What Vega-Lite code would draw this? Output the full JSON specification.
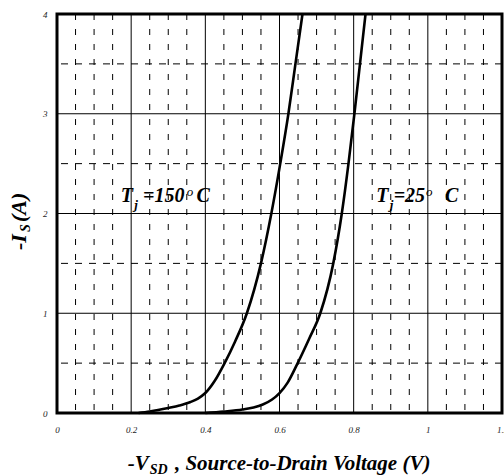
{
  "$schema": "https://vega.github.io/schema/vega-lite/v6.json",
  "width": 445,
  "height": 399,
  "autosize": "none",
  "padding": {"left": 57, "top": 14, "right": 2, "bottom": 62},
  "background": "white",
  "config": {
    "view": {"stroke": "black", "strokeWidth": 3},
    "axis": {"grid": false, "ticks": false, "domain": false, "title": null,
      "labelFont": "Liberation Serif", "labelFontStyle": "italic", "labelFontSize": 9,
      "labelColor": "#222", "labelFlush": false, "labelOverlap": false, "labelBound": false, "format": "~g"},
    "text": {"font": "Liberation Serif", "fontStyle": "italic", "fontWeight": "bold", "color": "black", "align": "left", "baseline": "alphabetic"}
  },
  "datasets": {
    "vsolid": [{"v": 0.2}, {"v": 0.4}, {"v": 0.6}, {"v": 0.8}, {"v": 1.0}],
    "vdash": [{"v": 0.05}, {"v": 0.1}, {"v": 0.15}, {"v": 0.25}, {"v": 0.3}, {"v": 0.35}, {"v": 0.45}, {"v": 0.5}, {"v": 0.55}, {"v": 0.65}, {"v": 0.7}, {"v": 0.75}, {"v": 0.85}, {"v": 0.9}, {"v": 0.95}, {"v": 1.05}, {"v": 1.1}, {"v": 1.15}],
    "hsolid": [{"i": 1}, {"i": 2}, {"i": 3}],
    "hdash": [{"i": 0.5}, {"i": 1.5}, {"i": 2.5}, {"i": 3.5}],
    "curves": [
      {"vsd": 0.22, "is": 0, "tj": "150"},
      {"vsd": 0.25, "is": 0.015, "tj": "150"},
      {"vsd": 0.3, "is": 0.05, "tj": "150"},
      {"vsd": 0.33, "is": 0.075, "tj": "150"},
      {"vsd": 0.36, "is": 0.11, "tj": "150"},
      {"vsd": 0.38, "is": 0.145, "tj": "150"},
      {"vsd": 0.4, "is": 0.2, "tj": "150"},
      {"vsd": 0.425, "is": 0.32, "tj": "150"},
      {"vsd": 0.452, "is": 0.5, "tj": "150"},
      {"vsd": 0.48, "is": 0.715, "tj": "150"},
      {"vsd": 0.512, "is": 1.0, "tj": "150"},
      {"vsd": 0.55, "is": 1.5, "tj": "150"},
      {"vsd": 0.578, "is": 2.0, "tj": "150"},
      {"vsd": 0.602, "is": 2.5, "tj": "150"},
      {"vsd": 0.624, "is": 3.0, "tj": "150"},
      {"vsd": 0.643, "is": 3.5, "tj": "150"},
      {"vsd": 0.662, "is": 4.0, "tj": "150"},
      {"vsd": 0.4, "is": 0, "tj": "25"},
      {"vsd": 0.45, "is": 0.015, "tj": "25"},
      {"vsd": 0.5, "is": 0.035, "tj": "25"},
      {"vsd": 0.53, "is": 0.055, "tj": "25"},
      {"vsd": 0.555, "is": 0.085, "tj": "25"},
      {"vsd": 0.58, "is": 0.135, "tj": "25"},
      {"vsd": 0.6, "is": 0.2, "tj": "25"},
      {"vsd": 0.622, "is": 0.305, "tj": "25"},
      {"vsd": 0.649, "is": 0.5, "tj": "25"},
      {"vsd": 0.68, "is": 0.745, "tj": "25"},
      {"vsd": 0.71, "is": 1.0, "tj": "25"},
      {"vsd": 0.745, "is": 1.5, "tj": "25"},
      {"vsd": 0.768, "is": 2.0, "tj": "25"},
      {"vsd": 0.786, "is": 2.5, "tj": "25"},
      {"vsd": 0.802, "is": 3.0, "tj": "25"},
      {"vsd": 0.817, "is": 3.5, "tj": "25"},
      {"vsd": 0.832, "is": 4.0, "tj": "25"}
    ],
    "one": [{}]
  },
  "layer": [
    {"data": {"name": "vdash"}, "mark": {"type": "rule", "color": "black", "strokeWidth": 1, "strokeDash": [6, 9]},
      "encoding": {"x": {"field": "v", "type": "quantitative", "scale": {"domain": [0, 1.2], "nice": false, "zero": false},
        "axis": {"values": [0, 0.2, 0.4, 0.6, 0.8, 1, 1.2], "labelPadding": 12}}}},
    {"data": {"name": "vsolid"}, "mark": {"type": "rule", "color": "black", "strokeWidth": 1},
      "encoding": {"x": {"field": "v", "type": "quantitative"}}},
    {"data": {"name": "hdash"}, "mark": {"type": "rule", "color": "black", "strokeWidth": 1, "strokeDash": [7, 7]},
      "encoding": {"y": {"field": "i", "type": "quantitative", "scale": {"domain": [0, 4], "nice": false, "zero": false},
        "axis": {"values": [0, 1, 2, 3, 4], "labelPadding": 10}}}},
    {"data": {"name": "hsolid"}, "mark": {"type": "rule", "color": "black", "strokeWidth": 1},
      "encoding": {"y": {"field": "i", "type": "quantitative"}}},
    {"data": {"name": "curves"}, "mark": {"type": "line", "color": "black", "strokeWidth": 2.6, "interpolate": "monotone"},
      "encoding": {"x": {"field": "vsd", "type": "quantitative"}, "y": {"field": "is", "type": "quantitative"}, "detail": {"field": "tj"}}},

    {"data": {"name": "one"}, "mark": {"type": "text", "fontSize": 20, "text": "T"}, "encoding": {"x": {"datum": 0.172}, "y": {"datum": 2.112}}},
    {"data": {"name": "one"}, "mark": {"type": "text", "fontSize": 13, "text": "j"}, "encoding": {"x": {"datum": 0.208}, "y": {"datum": 2.045}}},
    {"data": {"name": "one"}, "mark": {"type": "text", "fontSize": 20, "text": "=150"}, "encoding": {"x": {"datum": 0.232}, "y": {"datum": 2.112}}},
    {"data": {"name": "one"}, "mark": {"type": "text", "fontSize": 13, "fontWeight": "normal", "text": "o"}, "encoding": {"x": {"datum": 0.35}, "y": {"datum": 2.18}}},
    {"data": {"name": "one"}, "mark": {"type": "text", "fontSize": 20, "text": "C"}, "encoding": {"x": {"datum": 0.376}, "y": {"datum": 2.112}}},

    {"data": {"name": "one"}, "mark": {"type": "text", "fontSize": 20, "text": "T"}, "encoding": {"x": {"datum": 0.861}, "y": {"datum": 2.112}}},
    {"data": {"name": "one"}, "mark": {"type": "text", "fontSize": 13, "text": "j"}, "encoding": {"x": {"datum": 0.897}, "y": {"datum": 2.045}}},
    {"data": {"name": "one"}, "mark": {"type": "text", "fontSize": 20, "text": "=25"}, "encoding": {"x": {"datum": 0.908}, "y": {"datum": 2.112}}},
    {"data": {"name": "one"}, "mark": {"type": "text", "fontSize": 13, "fontWeight": "normal", "text": "o"}, "encoding": {"x": {"datum": 0.995}, "y": {"datum": 2.18}}},
    {"data": {"name": "one"}, "mark": {"type": "text", "fontSize": 20, "text": "C"}, "encoding": {"x": {"datum": 1.046}, "y": {"datum": 2.112}}},

    {"data": {"name": "one"}, "mark": {"type": "text", "fontSize": 21, "text": "-V"}, "encoding": {"x": {"datum": 0.191}, "y": {"datum": -0.571}}},
    {"data": {"name": "one"}, "mark": {"type": "text", "fontSize": 14, "text": "SD"}, "encoding": {"x": {"datum": 0.25}, "y": {"datum": -0.612}}},
    {"data": {"name": "one"}, "mark": {"type": "text", "fontSize": 21, "text": ", Source-to-Drain Voltage (V)"}, "encoding": {"x": {"datum": 0.318}, "y": {"datum": -0.571}}},

    {"data": {"name": "one"}, "mark": {"type": "text", "fontSize": 22, "angle": 270, "text": "-I"}, "encoding": {"x": {"datum": -0.0846}, "y": {"datum": 1.634}}},
    {"data": {"name": "one"}, "mark": {"type": "text", "fontSize": 14, "angle": 270, "text": "S"}, "encoding": {"x": {"datum": -0.0738}, "y": {"datum": 1.815}}},
    {"data": {"name": "one"}, "mark": {"type": "text", "fontSize": 22, "angle": 270, "text": "(A)"}, "encoding": {"x": {"datum": -0.0846}, "y": {"datum": 1.915}}}
  ]
}
